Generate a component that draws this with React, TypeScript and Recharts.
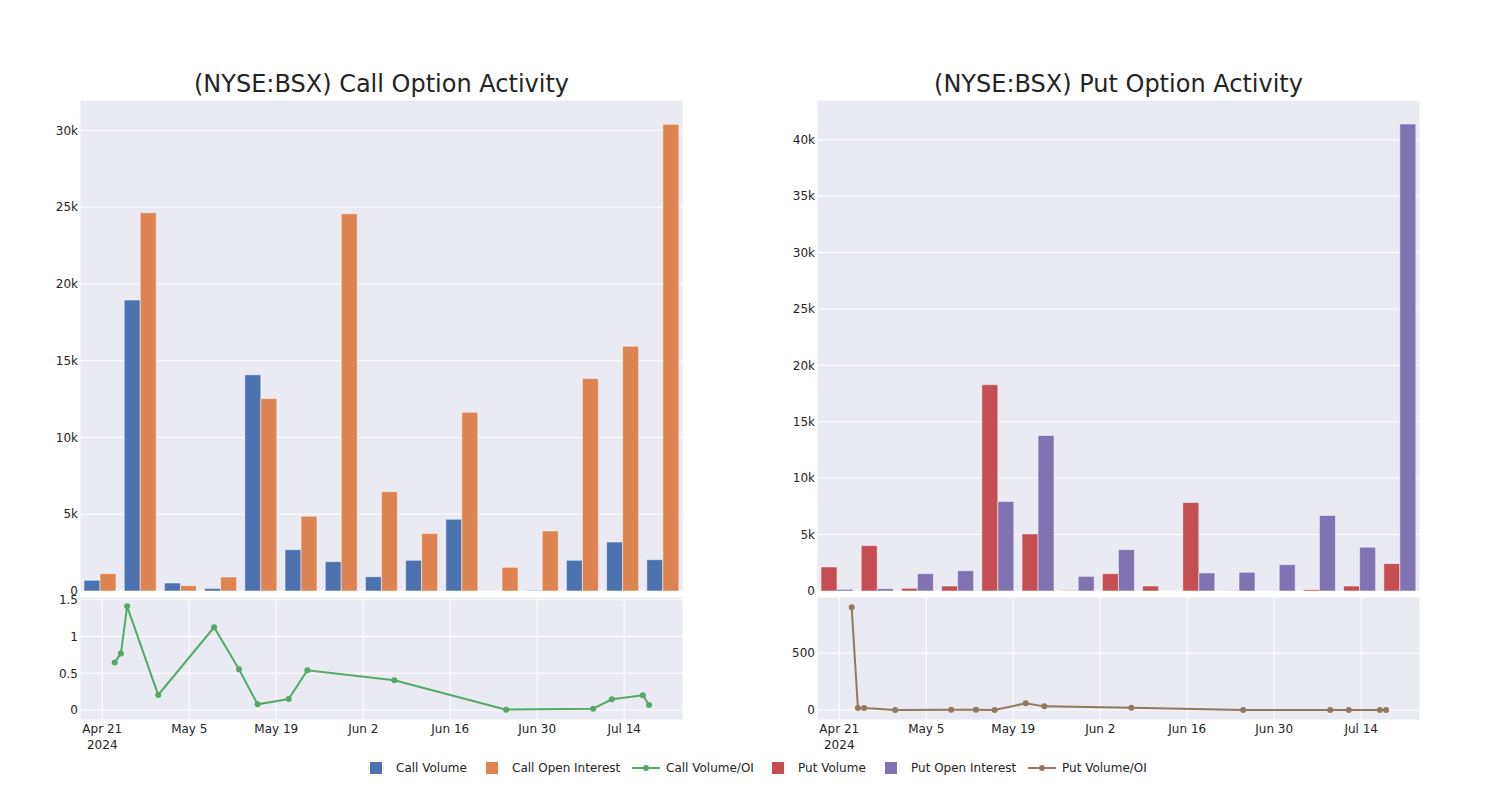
import { Bar, BarChart, CartesianGrid, Line, LineChart, XAxis, YAxis } from "recharts";

// weekly buckets for the bar panels (axis labels are hidden in the chart)
const weeks = [
  "Apr 21", "Apr 28", "May 5", "May 12", "May 19", "May 26", "Jun 2", "Jun 9",
  "Jun 16", "Jun 23", "Jun 30", "Jul 7", "Jul 14", "Jul 21", "Jul 28",
];
const callVolume = [700, 18950, 520, 170, 14080, 2690, 1910, 930, 2000, 4670, 0, 40, 2000, 3190, 2040];
const callOpenInterest = [1130, 24630, 350, 910, 12530, 4870, 24570, 6470, 3740, 11640, 1540, 3910, 13840, 15940, 30390];
const putVolume = [2130, 4020, 240, 440, 18280, 5060, 50, 1540, 440, 7840, 40, 0, 120, 440, 2430];
const putOpenInterest = [150, 210, 1540, 1800, 7930, 13790, 1300, 3670, 0, 1600, 1660, 2340, 6690, 3880, 41390];

// daily volume / open interest ratios
const ratioDates = [
  "2024-04-23", "2024-04-24", "2024-04-25", "2024-04-30", "2024-05-09", "2024-05-13",
  "2024-05-16", "2024-05-21", "2024-05-24", "2024-06-07", "2024-06-25", "2024-07-09",
  "2024-07-12", "2024-07-17", "2024-07-18",
];
const callRatio = [0.645, 0.77, 1.41, 0.205, 1.125, 0.555, 0.077, 0.15, 0.54, 0.405, 0.005, 0.018, 0.145, 0.2, 0.068];
const putRatio = [905, 18, 17, 0, 2, 2, 0, 59, 32, 20, 1, 0, 0, 0, 0];

const dateTicks = ["2024-04-21", "2024-05-05", "2024-05-19", "2024-06-02", "2024-06-16", "2024-06-30", "2024-07-14"];
const callBarTicks = [0, 5000, 10000, 15000, 20000, 25000, 30000];
const putBarTicks = [0, 5000, 10000, 15000, 20000, 25000, 30000, 35000, 40000];
const callRatioTicks = [0, 0.5, 1, 1.5];
const putRatioTicks = [0, 500];

const COLORS = {
  callVolume: "#4c72b0",
  callOI: "#dd8452",
  callRatio: "#55a868",
  putVolume: "#c44e52",
  putOI: "#8172b3",
  putRatio: "#937860",
};

const FONT = "'DejaVu Sans', Verdana, sans-serif";
const TEXT = "#242424";
const BG = "#eaeaf2";
const MONTHS = ["Jan", "Feb", "Mar", "Apr", "May", "Jun", "Jul", "Aug", "Sep", "Oct", "Nov", "Dec"];

const toTime = (s: string) => {
  const [y, m, d] = s.split("-").map(Number);
  return Date.UTC(y, m - 1, d);
};

const callBars = weeks.map((week, i) => ({ week, volume: callVolume[i], oi: callOpenInterest[i] }));
const putBars = weeks.map((week, i) => ({ week, volume: putVolume[i], oi: putOpenInterest[i] }));
const callLine = ratioDates.map((d, i) => ({ t: toTime(d), ratio: callRatio[i] }));
const putLine = ratioDates.map((d, i) => ({ t: toTime(d), ratio: putRatio[i] }));
const timeTicks = dateTicks.map(toTime);
const timeDomain = [Date.UTC(2024, 3, 17, 10), Date.UTC(2024, 6, 23, 11)];
const gridTicks = weeks.filter((_, i) => i % 2 === 0);

const kLabel = (v: number) => (v === 0 ? "0" : `${v / 1000}k`);

function DateTick(props: any) {
  const { x, y, payload, index } = props;
  const d = new Date(payload.value);
  const label = `${MONTHS[d.getUTCMonth()]} ${d.getUTCDate()}`;
  return (
    <g>
      <text x={x} y={y + 13} textAnchor="middle" fill={TEXT} fontSize={12} fontFamily={FONT}>
        {label}
      </text>
      {index === 0 && (
        <text x={x} y={y + 29} textAnchor="middle" fill={TEXT} fontSize={12} fontFamily={FONT}>
          {d.getUTCFullYear()}
        </text>
      )}
    </g>
  );
}

const tickStyle = { fill: TEXT, fontSize: 12, fontFamily: FONT };

function Panel({
  left,
  title,
  bars,
  barMax,
  barTicks,
  volColor,
  oiColor,
  volName,
  oiName,
  line,
  lineColor,
  lineDomain,
  lineTicks,
  lineFormat,
}: any) {
  return (
    <>
      <div
        style={{
          position: "absolute",
          left: left + 80,
          width: 603,
          top: 70,
          textAlign: "center",
          fontFamily: FONT,
          fontSize: 24,
          color: TEXT,
          lineHeight: "28px",
        }}
      >
        {title}
      </div>
      <div style={{ position: "absolute", left, top: 90 }}>
        <BarChart
          width={683}
          height={511}
          data={bars}
          margin={{ top: 10, right: 0, bottom: 10, left: 0 }}
          barGap={0}
          barCategoryGap="10%"
        >
          <CartesianGrid stroke="#ffffff" strokeWidth={1} fill={BG} fillOpacity={1} />
          <XAxis dataKey="week" ticks={gridTicks} interval={0} tick={false} axisLine={false} tickLine={false} height={0} />
          <YAxis
            width={80}
            domain={[0, barMax]}
            ticks={barTicks}
            tickFormatter={kLabel}
            axisLine={false}
            tickLine={false}
            tickSize={0}
            tickMargin={2}
            tick={tickStyle}
            allowDataOverflow
          />
          <Bar dataKey="volume" name={volName} fill={volColor} stroke="#ffffff" strokeOpacity={0.5} strokeWidth={1} isAnimationActive={false} />
          <Bar dataKey="oi" name={oiName} fill={oiColor} stroke="#ffffff" strokeOpacity={0.5} strokeWidth={1} isAnimationActive={false} />
        </BarChart>
      </div>
      <div style={{ position: "absolute", left, top: 587 }}>
        <LineChart width={683} height={180} data={line} margin={{ top: 10, right: 0, bottom: 0, left: 0 }}>
          <CartesianGrid stroke="#ffffff" strokeWidth={1} fill={BG} fillOpacity={1} />
          <XAxis
            dataKey="t"
            type="number"
            scale="time"
            domain={timeDomain}
            ticks={timeTicks}
            interval={0}
            height={47}
            axisLine={false}
            tickLine={false}
            tickSize={0}
            tickMargin={0}
            tick={<DateTick />}
            allowDataOverflow
          />
          <YAxis
            width={80}
            domain={lineDomain}
            ticks={lineTicks}
            tickFormatter={lineFormat}
            axisLine={false}
            tickLine={false}
            tickSize={0}
            tickMargin={2}
            tick={tickStyle}
            allowDataOverflow
          />
          <Line
            dataKey="ratio"
            type="linear"
            stroke={lineColor}
            strokeWidth={2}
            dot={{ r: 3, fill: lineColor, stroke: lineColor, strokeWidth: 0 }}
            isAnimationActive={false}
          />
        </LineChart>
      </div>
    </>
  );
}

const legendItems = [
  { label: "Call Volume", color: COLORS.callVolume, kind: "bar", x: 356 },
  { label: "Call Open Interest", color: COLORS.callOI, kind: "bar", x: 472 },
  { label: "Call Volume/OI", color: COLORS.callRatio, kind: "line", x: 626 },
  { label: "Put Volume", color: COLORS.putVolume, kind: "bar", x: 758 },
  { label: "Put Open Interest", color: COLORS.putOI, kind: "bar", x: 871 },
  { label: "Put Volume/OI", color: COLORS.putRatio, kind: "line", x: 1022 },
];

function LegendRow() {
  return (
    <>
      {legendItems.map((item) => (
        <div
          key={item.label}
          style={{
            position: "absolute",
            left: item.x,
            top: 760,
            height: 16,
            display: "flex",
            alignItems: "center",
            fontFamily: FONT,
            fontSize: 12,
            color: TEXT,
            whiteSpace: "nowrap",
          }}
        >
          <svg width={40} height={16}>
            {item.kind === "bar" ? (
              <rect x={14} y={2} width={12} height={12} fill={item.color} />
            ) : (
              <>
                <line x1={6} y1={8} x2={34} y2={8} stroke={item.color} strokeWidth={2} />
                <circle cx={20} cy={8} r={3} fill={item.color} />
              </>
            )}
          </svg>
          <span>{item.label}</span>
        </div>
      ))}
    </>
  );
}

export default function App() {
  return (
    <div style={{ position: "absolute", left: 0, top: 0, width: 1500, height: 800, background: "#ffffff" }}>
      <Panel
        left={0}
        title="(NYSE:BSX) Call Option Activity"
        bars={callBars}
        barMax={31975}
        barTicks={callBarTicks}
        volColor={COLORS.callVolume}
        oiColor={COLORS.callOI}
        volName="Call Volume"
        oiName="Call Open Interest"
        line={callLine}
        lineColor={COLORS.callRatio}
        lineDomain={[-0.136, 1.537]}
        lineTicks={callRatioTicks}
        lineFormat={(v: number) => String(v)}
      />
      <Panel
        left={737}
        title="(NYSE:BSX) Put Option Activity"
        bars={putBars}
        barMax={43520}
        barTicks={putBarTicks}
        volColor={COLORS.putVolume}
        oiColor={COLORS.putOI}
        volName="Put Volume"
        oiName="Put Open Interest"
        line={putLine}
        lineColor={COLORS.putRatio}
        lineDomain={[-88, 995]}
        lineTicks={putRatioTicks}
        lineFormat={(v: number) => String(v)}
      />
      <LegendRow />
    </div>
  );
}
